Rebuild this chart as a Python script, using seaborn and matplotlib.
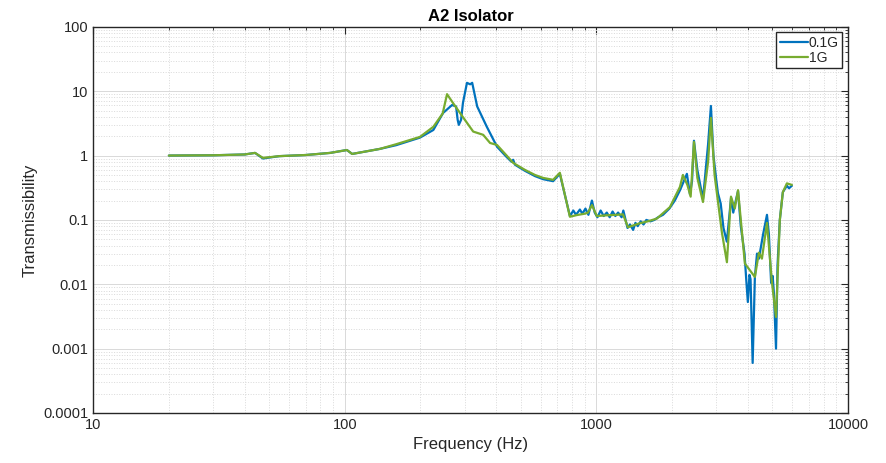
import numpy as np
import pandas as pd
import matplotlib
matplotlib.use("Agg")
import matplotlib.pyplot as plt
import seaborn as sns
from matplotlib.ticker import LogLocator, FixedLocator, FixedFormatter, NullFormatter

# Transmissibility sweep, 1G excitation
freq_1g = [20, 30, 40, 44, 47.3, 55, 70, 87.5, 102, 107, 120, 138, 160, 199, 225, 245,
           255, 269, 300, 324, 355, 378, 403, 440, 467, 520, 570, 614, 673, 716, 785,
           837, 900, 926, 961, 1004, 1100, 1200, 1276, 1336, 1400, 1491, 1600, 1740,
           1960, 2148, 2208, 2300, 2370, 2443, 2520, 2653, 2780, 2853, 2950, 3156, 3303,
           3428, 3550, 3656, 3893, 4100, 4266, 4426, 4550, 4765, 4989, 5176, 5360, 5510,
           5718, 5985]
trans_1g = [1.0, 1.01, 1.04, 1.1, 0.92, 0.98, 1.02, 1.1, 1.22, 1.06, 1.15, 1.27, 1.5,
            1.95, 2.8, 4.5, 9.0, 6.6, 3.6, 2.36, 2.1, 1.57, 1.46, 1.0, 0.77, 0.6, 0.5,
            0.45, 0.42, 0.54, 0.112, 0.119, 0.125, 0.13, 0.17, 0.115, 0.118, 0.12, 0.122,
            0.077, 0.082, 0.089, 0.095, 0.105, 0.158, 0.325, 0.5, 0.35, 0.23, 1.63, 0.45,
            0.19, 0.8, 3.85, 0.5, 0.063, 0.022, 0.23, 0.15, 0.29, 0.021, 0.016, 0.013,
            0.031, 0.025, 0.09, 0.0105, 0.0031, 0.1, 0.27, 0.37, 0.35]

# Transmissibility sweep, 0.1G excitation
freq_01g = [20, 30, 40, 44, 47.3, 50, 55, 70, 87.5, 102, 107, 120, 138, 160, 199, 225,
            246, 267, 277, 281, 284, 290, 295, 306, 315, 321, 336, 367, 403, 440, 460,
            467, 475, 520, 570, 614, 673, 716, 785, 810, 830, 860, 880, 905, 930, 960,
            985, 1010, 1040, 1070, 1100, 1130, 1160, 1190, 1220, 1260, 1280, 1330, 1360,
            1400, 1430, 1460, 1500, 1540, 1580, 1640, 1700, 1760, 1840, 1950, 2050, 2150,
            2290, 2355, 2400, 2443, 2520, 2653, 2780, 2853, 2920, 3000, 3042, 3120, 3200,
            3300, 3380, 3430, 3500, 3560, 3656, 3750, 3880, 3950, 4000, 4060, 4100, 4180,
            4266, 4350, 4426, 4600, 4765, 4850, 4950, 5020, 5080, 5176, 5250, 5360, 5510,
            5718, 5830, 5985]
trans_01g = [1.0, 1.01, 1.04, 1.1, 0.9, 0.93, 0.98, 1.02, 1.1, 1.22, 1.06, 1.15, 1.27,
             1.45, 1.9, 2.5, 4.6, 6.1, 5.8, 3.6, 3.0, 3.6, 6.6, 13.5, 12.8, 13.5, 5.8,
             2.8, 1.37, 0.95, 0.8, 0.86, 0.72, 0.58, 0.48, 0.43, 0.4, 0.52, 0.115, 0.14,
             0.12, 0.145, 0.125, 0.15, 0.12, 0.2, 0.13, 0.11, 0.14, 0.115, 0.13, 0.11,
             0.135, 0.115, 0.13, 0.11, 0.14, 0.075, 0.085, 0.07, 0.09, 0.08, 0.095,
             0.085, 0.1, 0.095, 0.1, 0.11, 0.12, 0.15, 0.2, 0.29, 0.52, 0.25, 0.4, 1.7,
             0.6, 0.21, 1.5, 5.9, 1.0, 0.4, 0.26, 0.18, 0.075, 0.046, 0.12, 0.22, 0.13,
             0.18, 0.28, 0.08, 0.03, 0.0105, 0.0053, 0.014, 0.012, 0.0006, 0.013, 0.03,
             0.025, 0.06, 0.12, 0.06, 0.0105, 0.0135, 0.007, 0.001, 0.02, 0.1, 0.27,
             0.34, 0.31, 0.34]

series_names = ["0.1G", "1G"]
series_colors = ["#0072BD", "#77AC30"]

x_ticks = [10, 100, 1000, 10000]
x_labels = ["10", "100", "1000", "10000"]
y_ticks = [0.0001, 0.001, 0.01, 0.1, 1, 10, 100]
y_labels = ["0.0001", "0.001", "0.01", "0.1", "1", "10", "100"]

df = pd.concat([
    pd.DataFrame({"Frequency": freq_01g, "Transmissibility": trans_01g, "Level": series_names[0]}),
    pd.DataFrame({"Frequency": freq_1g, "Transmissibility": trans_1g, "Level": series_names[1]}),
], ignore_index=True)

sns.set_theme(style="white")
plt.rcParams["font.family"] = ["Liberation Sans", "DejaVu Sans"]

fig = plt.figure(figsize=(8.87, 4.63), dpi=100)
ax = fig.add_axes([0.105, 0.108, 0.851, 0.834])

sns.lineplot(data=df, x="Frequency", y="Transmissibility", hue="Level",
             hue_order=series_names, palette=series_colors, estimator=None,
             sort=False, linewidth=1.6, ax=ax)

ax.set_xscale("log")
ax.set_yscale("log")
ax.set_xlim(10, 10000)
ax.set_ylim(0.0001, 100)

ax.xaxis.set_major_locator(FixedLocator(x_ticks))
ax.xaxis.set_major_formatter(FixedFormatter(x_labels))
ax.yaxis.set_major_locator(FixedLocator(y_ticks))
ax.yaxis.set_major_formatter(FixedFormatter(y_labels))
ax.xaxis.set_minor_locator(LogLocator(base=10, subs=np.arange(2, 10), numticks=20))
ax.yaxis.set_minor_locator(LogLocator(base=10, subs=np.arange(2, 10), numticks=20))
ax.xaxis.set_minor_formatter(NullFormatter())
ax.yaxis.set_minor_formatter(NullFormatter())

ax.tick_params(which="both", direction="in", top=True, right=True,
               color="#262626", labelcolor="#262626", labelsize=10.5)
ax.tick_params(which="major", length=5, width=0.8)
ax.tick_params(which="minor", length=2.5, width=0.6)

ax.grid(True, which="major", color="#d9d9d9", linestyle="-", linewidth=0.7)
ax.grid(True, which="minor", color="#d9d9d9", linestyle=":", linewidth=0.7)
ax.set_axisbelow(True)

for sp in ax.spines.values():
    sp.set_visible(True)
    sp.set_color("#262626")
    sp.set_linewidth(1.0)

ax.set_title("A2 Isolator", fontsize=12, fontweight="bold", color="#000000", pad=4)
ax.set_xlabel("Frequency (Hz)", fontsize=12, color="#262626")
ax.set_ylabel("Transmissibility", fontsize=12, color="#262626")

leg = ax.legend(loc="upper right", fontsize=10, frameon=True, fancybox=False,
                framealpha=1, edgecolor="#262626", handlelength=2.0,
                handletextpad=0.1, borderpad=0.25, labelspacing=0.05,
                borderaxespad=0.4)
leg.get_frame().set_linewidth(1.0)

fig.savefig("out.png", dpi=100)
